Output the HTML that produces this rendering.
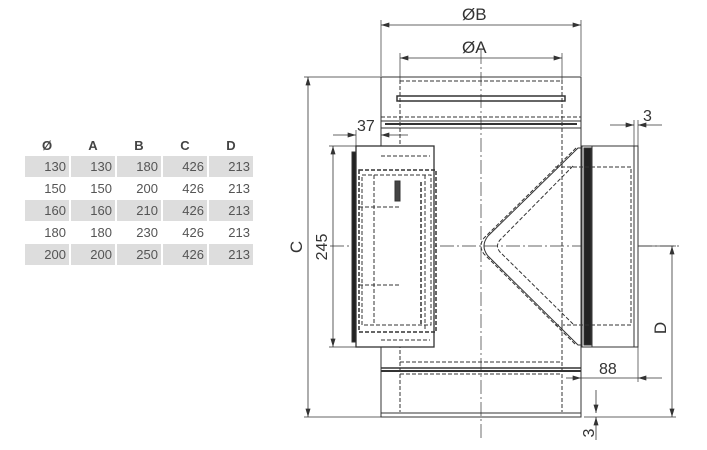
<!DOCTYPE html>
<html><head><meta charset="utf-8">
<style>
html,body{margin:0;padding:0;background:#fff;}
body{width:707px;height:450px;position:relative;overflow:hidden;font-family:"Liberation Sans","DejaVu Sans",sans-serif;}
table{position:absolute;left:23px;top:137px;border-collapse:separate;border-spacing:2px 1px;}
td,th{width:41px;height:21px;padding:0 3px 0 0;text-align:right;font-size:13px;color:#555;}
th{text-align:center;font-weight:bold;color:#444;font-size:13px;height:14px;padding:0 0 2px 0;}
tr.g td{background:#ddd;}
</style></head><body>
<table>
<tr><th>Ø</th><th>A</th><th>B</th><th>C</th><th>D</th></tr>
<tr class="g"><td>130</td><td>130</td><td>180</td><td>426</td><td>213</td></tr>
<tr><td>150</td><td>150</td><td>200</td><td>426</td><td>213</td></tr>
<tr class="g"><td>160</td><td>160</td><td>210</td><td>426</td><td>213</td></tr>
<tr><td>180</td><td>180</td><td>230</td><td>426</td><td>213</td></tr>
<tr class="g"><td>200</td><td>200</td><td>250</td><td>426</td><td>213</td></tr>
</table>
<svg width="707" height="450" style="position:absolute;left:0;top:0" xmlns="http://www.w3.org/2000/svg">
<defs><marker id="a" viewBox="0 0 10 6" refX="10" refY="3" markerWidth="10" markerHeight="5" orient="auto-start-reverse" markerUnits="userSpaceOnUse"><path d="M0,0L10,3L0,6z" fill="#333"/></marker></defs>
<g stroke="#333" fill="none" stroke-width="1">
<line x1="481" y1="50" x2="481" y2="440" stroke-dasharray="14,3,2,3" stroke-width="0.7"/>
<line x1="330" y1="246" x2="680" y2="246" stroke-dasharray="14,3,2,3" stroke-width="0.7"/>
<rect x="381" y="77" width="200" height="340"/>
<line x1="381" y1="413" x2="581" y2="413"/>
<line x1="400" y1="80" x2="400" y2="412" stroke-dasharray="4,2"/>
<line x1="562" y1="80" x2="562" y2="412" stroke-dasharray="4,2"/>
<line x1="400" y1="81" x2="562" y2="81" stroke-dasharray="4,2"/>
<rect x="397" y="96" width="168" height="5" stroke-width="1.5"/>
<line x1="381" y1="117" x2="581" y2="117" stroke-dasharray="4,2"/>
<line x1="381" y1="121" x2="581" y2="121"/>
<line x1="385" y1="124" x2="577" y2="124" stroke-width="2"/>
<line x1="381" y1="128" x2="581" y2="128"/>
<line x1="400" y1="362" x2="562" y2="362" stroke-dasharray="4,2"/>
<line x1="381" y1="368" x2="581" y2="368" stroke-width="1.5"/>
<line x1="381" y1="371" x2="581" y2="371" stroke-width="2"/>
<line x1="400" y1="374" x2="562" y2="374" stroke-dasharray="4,2"/>
<line x1="400" y1="413" x2="562" y2="413" stroke-dasharray="4,2"/>
<rect x="356" y="146" width="78" height="201" fill="#fff" stroke-width="1.3"/>
<rect x="352" y="152" width="4" height="190" fill="#222"/>
<rect x="359" y="170" width="77" height="162" stroke-dasharray="4,2" stroke-width="1.5"/>
<rect x="362" y="175" width="69" height="150" stroke-dasharray="4,2"/>
<line x1="374" y1="175" x2="374" y2="323" stroke-dasharray="4,2"/>
<rect x="395" y="181" width="5" height="20" fill="#444"/>
<line x1="421" y1="182" x2="421" y2="325" stroke-dasharray="4,2" stroke-width="1.5"/>
<line x1="425" y1="175" x2="425" y2="330" stroke-dasharray="4,2"/>
<line x1="381" y1="156" x2="430" y2="156" stroke-dasharray="4,2"/>
<line x1="381" y1="340" x2="430" y2="340" stroke-dasharray="4,2"/>
<line x1="359" y1="207" x2="400" y2="207" stroke-dasharray="4,2"/>
<line x1="359" y1="285" x2="400" y2="285" stroke-dasharray="4,2"/>
<path d="M581,148 L578,148 L488,236 Q480,246 488,256 L578,345 L581,345"/>
<path d="M576,148 L484,238 Q478,246 484,254 L576,345" stroke-dasharray="4,2"/>
<path d="M573,166 L500,240 Q495,246 500,252 L573,324" stroke-dasharray="4,2"/>
<rect x="582" y="146" width="10" height="201" fill="#fff"/>
<rect x="584" y="148" width="7" height="197" fill="#222"/>
<rect x="592" y="146" width="46" height="201" fill="#fff"/>
<line x1="634" y1="146" x2="634" y2="347"/>
<path d="M555,167 L631,167 L631,325 L555,325" stroke-dasharray="4,2"/>
<line x1="381" y1="20" x2="381" y2="76" stroke-width="0.7"/>
<line x1="581" y1="20" x2="581" y2="76" stroke-width="0.7"/>
<line x1="381" y1="25" x2="581" y2="25" marker-start="url(#a)" marker-end="url(#a)" stroke-width="0.8"/>
<line x1="400" y1="53" x2="400" y2="80" stroke-width="0.7"/>
<line x1="562" y1="53" x2="562" y2="80" stroke-width="0.7"/>
<line x1="400" y1="58" x2="562" y2="58" marker-start="url(#a)" marker-end="url(#a)" stroke-width="0.8"/>
<line x1="304" y1="77" x2="381" y2="77" stroke-width="0.7"/>
<line x1="304" y1="417" x2="381" y2="417" stroke-width="0.7"/>
<line x1="308" y1="77" x2="308" y2="417" marker-start="url(#a)" marker-end="url(#a)" stroke-width="0.8"/>
<line x1="329" y1="146" x2="356" y2="146" stroke-width="0.7"/>
<line x1="329" y1="347" x2="356" y2="347" stroke-width="0.7"/>
<line x1="333" y1="146" x2="333" y2="347" marker-start="url(#a)" marker-end="url(#a)" stroke-width="0.8"/>
<line x1="333" y1="135" x2="356" y2="135" marker-end="url(#a)" stroke-width="0.8"/>
<line x1="408" y1="135" x2="381" y2="135" marker-end="url(#a)" stroke-width="0.8"/>
<line x1="356" y1="130" x2="356" y2="146" stroke-width="0.7"/>
<line x1="381" y1="110" x2="381" y2="140" stroke-width="0.7"/>
<line x1="610" y1="125" x2="634" y2="125" marker-end="url(#a)" stroke-width="0.8"/>
<line x1="662" y1="125" x2="638" y2="125" marker-end="url(#a)" stroke-width="0.8"/>
<line x1="634" y1="120" x2="634" y2="146" stroke-width="0.7"/>
<line x1="638" y1="120" x2="638" y2="146" stroke-width="0.7"/>
<line x1="638" y1="246" x2="676" y2="246" stroke-width="0.7"/>
<line x1="584" y1="417" x2="676" y2="417" stroke-width="0.7"/>
<line x1="672" y1="246" x2="672" y2="417" marker-start="url(#a)" marker-end="url(#a)" stroke-width="0.8"/>
<line x1="638" y1="347" x2="638" y2="382" stroke-width="0.7"/>
<line x1="566" y1="378" x2="581" y2="378" stroke-width="0.8" marker-end="url(#a)"/>
<line x1="581" y1="378" x2="638" y2="378" stroke-width="0.7"/>
<line x1="662" y1="378" x2="638" y2="378" marker-end="url(#a)" stroke-width="0.8"/>
<line x1="596" y1="390" x2="596" y2="413" marker-end="url(#a)" stroke-width="0.8"/>
<line x1="596" y1="440" x2="596" y2="417" marker-end="url(#a)" stroke-width="0.8"/>
</g>
<g fill="#333" font-family="Liberation Sans, DejaVu Sans, sans-serif" font-size="16">
<text x="462" y="20" font-size="17">ØB</text>
<text x="462" y="53" font-size="17">ØA</text>
<text x="357" y="131">37</text>
<text x="643" y="121">3</text>
<text x="599" y="374">88</text>
<text transform="translate(302,247) rotate(-90)" text-anchor="middle" font-size="17">C</text>
<text transform="translate(327,247) rotate(-90)" text-anchor="middle">245</text>
<text transform="translate(666,328) rotate(-90)" text-anchor="middle" font-size="17">D</text>
<text transform="translate(594,433) rotate(-90)" text-anchor="middle">3</text>
</g>
</svg>
</body></html>
